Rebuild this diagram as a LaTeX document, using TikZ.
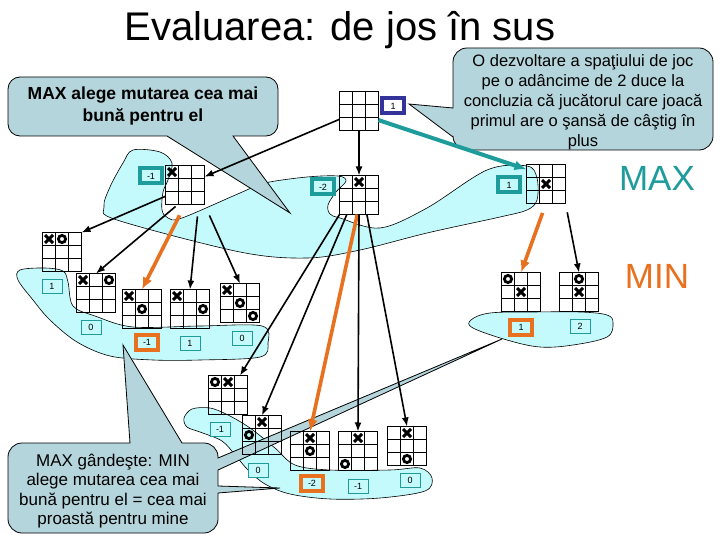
\documentclass[tikz,border=0pt]{standalone}
\usepackage{fontspec}
\setmainfont{Liberation Sans}
\usetikzlibrary{arrows.meta}

\definecolor{cyanl}{HTML}{C4FAFC}
\definecolor{balonc}{HTML}{B4D5DB}
\definecolor{turcoaz}{HTML}{1E9C9C}
\definecolor{portocaliu}{HTML}{E8711F}
\definecolor{bleumarin}{HTML}{333399}

% tabla de joc 3x3 (nume, x, y)
\newcommand{\tabla}[3]{%
  \node[tabla] (#1) at (#2,#3) {};
  \draw (#1.north west) ++(13,0) -- ++(0,-39);
  \draw (#1.north west) ++(26,0) -- ++(0,-39);
  \draw (#1.north west) ++(0,-13) -- ++(39,0);
  \draw (#1.north west) ++(0,-26) -- ++(39,0);
}
% marcaje (tabla, coloana, linia)
\newcommand{\marcaX}[3]{%
  \draw[marcax] (#1.north west) ++(13*#2-6.5,6.5-13*#3) +(-4,-4) -- +(4,4) +(-4,4) -- +(4,-4);}
\newcommand{\marcaO}[3]{%
  \draw[marcao] (#1.north west) ++(13*#2-6.5,6.5-13*#3) circle (3.6);}

\begin{document}
\begin{tikzpicture}[x=1pt,y=1pt]
    \tikzstyle{every node}+=[inner sep=0pt]
    \tikzstyle{tabla}=[draw, line width=1pt, minimum size=39pt, outer sep=0pt]
    \tikzstyle{marcax}=[line width=3pt]
    \tikzstyle{marcao}=[line width=2.8pt]
    \tikzstyle{zona}=[draw=black, line width=0.6pt, fill=cyanl]
    \tikzstyle{balon}=[draw=black, line width=0.8pt, fill=balonc]
    \tikzstyle{scor}=[draw=turcoaz, fill=cyanl, line width=0.8pt, minimum width=20pt, minimum height=14pt, font=\fontsize{9}{9}\selectfont]
    \tikzstyle{scormax}=[scor, line width=4pt, minimum width=22pt, minimum height=15pt]
    \tikzstyle{scormin}=[scormax, draw=portocaliu]
    \tikzstyle{scorrad}=[scormax, draw=bleumarin, fill=white]
    \tikzstyle{sageata}=[-{Latex[length=9pt,width=7pt]}, line width=1.6pt]
    \tikzstyle{sageatamax}=[-{Latex[length=12pt,width=10pt]}, line width=4pt, turcoaz]
    \tikzstyle{sageatamin}=[-{Latex[length=12pt,width=10pt]}, line width=3.6pt, portocaliu]

    \useasboundingbox (0,0) rectangle (720,-540);
    \fill[white] (0,0) rectangle (720,-540);

    \node[font=\fontsize{40}{44}\selectfont] (titlu) at (340,-30) {Evaluarea: de jos în sus};

    % zonele MAX / MIN
    \draw[zona] plot[smooth cycle, tension=0.55] coordinates {(133,-150) (160,-152) (172,-163) (168,-180) (163,-192) (162,-210) (168,-218) (182,-218) (240,-193) (265,-183) (307,-177) (338,-176) (346,-181) (336,-192) (328,-205) (330,-214) (340,-218) (380,-228) (427,-208) (487,-170) (527,-166) (537,-178) (537,-200) (527,-210) (500,-217) (427,-233) (360,-250) (307,-258) (240,-252) (117,-220) (104,-207) (110,-187) (123,-163)};
    \draw[zona] plot[smooth cycle, tension=0.55] coordinates {(20,-270) (45,-268) (63,-271) (68,-282) (73,-306) (95,-316) (133,-327) (200,-326) (262,-326) (268,-343) (260,-357) (200,-360) (153,-360) (110,-356) (77,-342) (50,-320) (33,-300) (18,-280)};
    \draw[zona] plot[smooth cycle, tension=0.6] coordinates {(471,-320) (490,-313) (533,-312) (580,-312) (607,-315) (613,-323) (607,-337) (573,-345) (540,-347) (507,-340) (473,-328)};
    \draw[zona] plot[smooth cycle, tension=0.55] coordinates {(184,-418) (192,-409) (210,-408) (228,-415) (250,-428) (275,-448) (295,-465) (330,-470) (390,-470) (420,-468) (432,-478) (425,-491) (380,-498) (330,-499) (290,-494) (265,-484) (248,-470) (236,-456) (222,-441) (200,-432) (187,-427)};

    % baloane
    \draw[balon] (20,-77) -- (266,-77) arc (90:0:12) -- (278,-124) arc (0:-90:12) -- (233,-136) -- (290,-213) -- (167,-136) -- (20,-136) arc (270:180:12) -- (8,-89) arc (180:90:12) -- cycle;
    \node[align=center, font=\bfseries\fontsize{17.5}{22}\selectfont] (textmax) at (143,-106) {MAX alege mutarea cea mai\\bună pentru el};
    \draw[balon] (467,-48) -- (699,-48) arc (90:0:14) -- (713,-136) arc (0:-90:14) -- (467,-150) arc (270:180:14) -- (453,-137) -- (409,-104) -- (453,-108) -- (453,-62) arc (180:90:14) -- cycle;
    \node[align=center, font=\fontsize{16.5}{20}\selectfont] (textrad) at (583,-102) {O dezvoltare a spaţiului de joc\\pe o adâncime de 2 duce la\\concluzia că jucătorul care joacă\\primul are o şansă de câştig în\\plus};
    \draw[balon] (22,-443) -- (130,-443) -- (123,-345) -- (182,-443) -- (204,-443) arc (90:0:14) -- (218,-458) -- (502,-339) -- (218,-470) -- (218,-486) -- (280,-488) -- (218,-493) -- (218,-519) arc (0:-90:14) -- (22,-533) arc (270:180:14) -- (8,-457) arc (180:90:14) -- cycle;
    \node[align=center, font=\fontsize{17}{19.5}\selectfont] (textmin) at (113,-491) {MAX gândeşte: MIN\\alege mutarea cea mai\\bună pentru el = cea mai\\proastă pentru mine};

    % table
    \tabla{rad}{359}{-111}
    \tabla{l1a}{185}{-185}
    \marcaX{l1a}{1}{1}
    \tabla{l1b}{359}{-195}
    \marcaX{l1b}{2}{1}
    \tabla{l1c}{546}{-184}
    \marcaX{l1c}{2}{2}
    \tabla{b1}{62}{-252}
    \marcaX{b1}{1}{1} \marcaO{b1}{2}{1}
    \tabla{b2}{96}{-293}
    \marcaX{b2}{1}{1} \marcaO{b2}{3}{1}
    \tabla{b3}{142}{-309}
    \marcaX{b3}{1}{1} \marcaO{b3}{2}{2}
    \tabla{b4}{190}{-309}
    \marcaX{b4}{1}{1} \marcaO{b4}{3}{2}
    \tabla{b5}{240}{-303}
    \marcaX{b5}{1}{1} \marcaO{b5}{2}{2} \marcaO{b5}{3}{3}
    \tabla{c1}{521}{-292}
    \marcaO{c1}{1}{1} \marcaX{c1}{2}{2}
    \tabla{c2}{579}{-292}
    \marcaO{c2}{2}{1} \marcaX{c2}{2}{2}
    \tabla{d1}{228}{-395}
    \marcaO{d1}{1}{1} \marcaX{d1}{2}{1}
    \tabla{d2}{262}{-435}
    \marcaX{d2}{2}{1} \marcaO{d2}{1}{2}
    \tabla{d3}{310}{-451}
    \marcaX{d3}{2}{1} \marcaO{d3}{2}{2}
    \tabla{d4}{358}{-451}
    \marcaX{d4}{2}{1} \marcaO{d4}{1}{3}
    \tabla{d5}{407}{-446}
    \marcaX{d5}{2}{1} \marcaO{d5}{2}{3}

    % sageti
    \draw[sageata] (rad) -- (l1a);
    \draw[sageata] (rad) -- (l1b);
    \draw[sageatamax] (rad.-25) -- (l1c.143);
    \draw[sageata] (l1a.-150) -- (b1.north east);
    \draw[sageata, shorten <=3pt] (l1a.-110) -- (b2.north);
    \draw[sageatamin, shorten <=12pt] (l1a.south) -- (b3.north);
    \draw[sageata, shorten <=12pt] (l1a.-55) -- (b4.north);
    \draw[sageata, shorten <=12pt] (l1a.south east) -- (b5.north);
    \draw[sageata] (l1b.south west) -- (d1);
    \draw[sageata] (l1b.-122) -- (d2.north);
    \draw[sageatamin] (l1b.-95) -- (d3.north);
    \draw[sageata] (l1b.south) -- (d4.north);
    \draw[sageata] (l1b.-68) -- (d5.north);
    \draw[sageatamin, shorten <=10pt] (l1c.south) -- (c1.north);
    \draw[sageata, shorten <=9pt] (l1c.south east) -- (c2.north);

    % valori
    \node[scorrad] (vrad) at (393,-106) {1};
    \node[scormax] (vl1a) at (151,-176) {-1};
    \node[scormax] (vl1b) at (323,-187) {-2};
    \node[scormax] (vl1c) at (509,-185) {1};
    \node[scor] (vb1) at (52,-286) {1};
    \node[scor] (vb2) at (91,-327) {0};
    \node[scormin] (vb3) at (147,-342) {-1};
    \node[scor] (vb4) at (190,-343) {1};
    \node[scor] (vb5) at (242,-338) {0};
    \node[scormin] (vc1) at (521,-327) {1};
    \node[scor] (vc2) at (580,-326) {2};
    \node[scor] (vd1) at (220,-429) {-1};
    \node[scor] (vd2) at (258,-470) {0};
    \node[scormin] (vd3) at (312,-483) {-2};
    \node[scor] (vd4) at (358,-486) {-1};
    \node[scor] (vd5) at (410,-480) {0};

    \node[text=turcoaz, font=\fontsize{35}{35}\selectfont] (etmax) at (657,-178) {MAX};
    \node[text=portocaliu, font=\fontsize{35}{35}\selectfont] (etmin) at (657,-276) {MIN};
\end{tikzpicture}
\end{document}
